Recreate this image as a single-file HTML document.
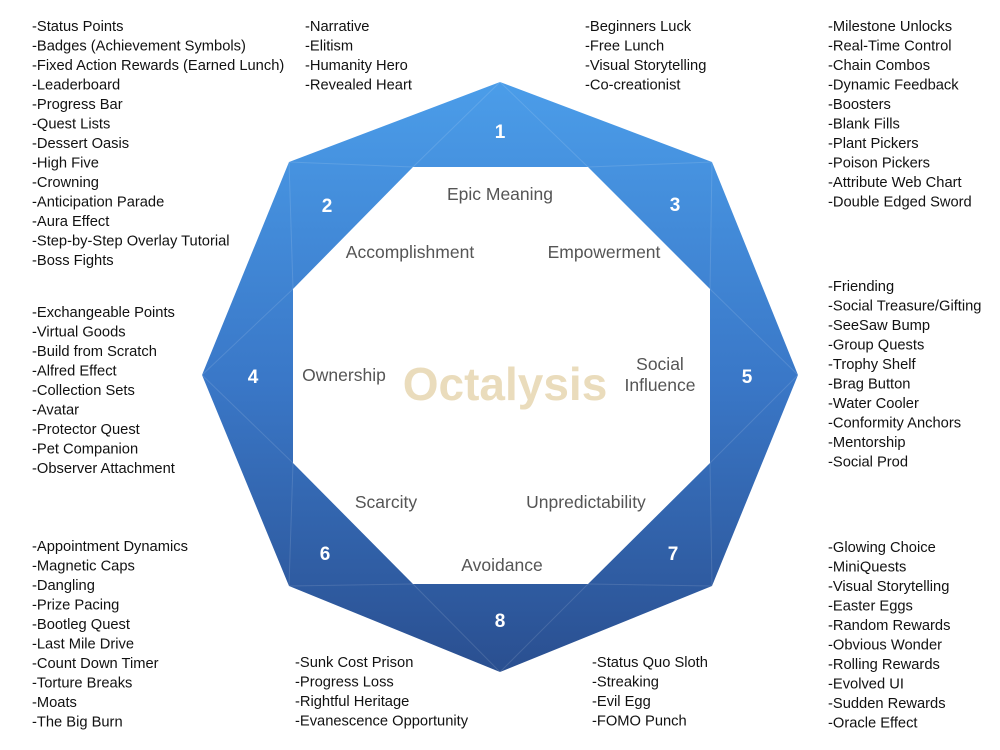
<!DOCTYPE html>
<html><head><meta charset="utf-8"><style>
html,body{margin:0;padding:0;background:#fff;}
svg{display:block;}
.l{font-family:"Liberation Sans",sans-serif;font-size:14.7px;fill:#111;}
.c{font-family:"Liberation Sans",sans-serif;font-size:17.5px;fill:#555;text-anchor:middle;}
.n{font-family:"Liberation Sans",sans-serif;font-size:19px;font-weight:bold;fill:#fff;text-anchor:middle;}
</style></head><body>
<svg width="1000" height="750" viewBox="0 0 1000 750">
<defs><linearGradient id="g" x1="0" y1="0" x2="0" y2="1">
<stop offset="0" stop-color="#4b9de9"/><stop offset="0.5" stop-color="#3a78c8"/><stop offset="1" stop-color="#2a4f90"/></linearGradient></defs>
<polygon points="500,82 712,162 798,375 712,586 500,672 289,586 202,375 289,162" fill="url(#g)"/>
<g stroke="#ffffff" stroke-opacity="0.12" stroke-width="1" fill="none">
<line x1="289" y1="162" x2="413" y2="167"/><line x1="712" y1="162" x2="588" y2="167"/>
<line x1="289" y1="162" x2="293" y2="289"/><line x1="712" y1="162" x2="710" y2="289"/>
<line x1="202" y1="375" x2="293" y2="289"/><line x1="202" y1="375" x2="293" y2="463"/>
<line x1="798" y1="375" x2="710" y2="289"/><line x1="798" y1="375" x2="710" y2="463"/>
<line x1="289" y1="586" x2="293" y2="463"/><line x1="289" y1="586" x2="413" y2="584"/>
<line x1="712" y1="586" x2="710" y2="463"/><line x1="712" y1="586" x2="588" y2="584"/>
<line x1="500" y1="672" x2="413" y2="584"/><line x1="500" y1="672" x2="588" y2="584"/>
<line x1="500" y1="82" x2="413" y2="167"/><line x1="500" y1="82" x2="588" y2="167"/>
</g>
<polygon points="413,167 588,167 710,289 710,463 588,584 413,584 293,463 293,289" fill="#fff"/>
<text x="505" y="400" text-anchor="middle" font-family="Liberation Sans,sans-serif" font-weight="bold" font-size="46" fill="#eadcbc">Octalysis</text>
<text class="c" x="500" y="200">Epic Meaning</text>
<text class="c" x="410" y="258">Accomplishment</text>
<text class="c" x="604" y="258">Empowerment</text>
<text class="c" x="344" y="381">Ownership</text>
<text class="c" x="660" y="370">Social</text>
<text class="c" x="660" y="391">Influence</text>
<text class="c" x="386" y="508">Scarcity</text>
<text class="c" x="586" y="508">Unpredictability</text>
<text class="c" x="502" y="571">Avoidance</text>
<text class="n" x="500" y="138">1</text>
<text class="n" x="327" y="212">2</text>
<text class="n" x="675" y="211">3</text>
<text class="n" x="253" y="383">4</text>
<text class="n" x="747" y="383">5</text>
<text class="n" x="325" y="560">6</text>
<text class="n" x="673" y="560">7</text>
<text class="n" x="500" y="627">8</text>
<g class="l">
<text x="32" y="31">-Status Points</text><text x="32" y="50.5">-Badges (Achievement Symbols)</text><text x="32" y="70">-Fixed Action Rewards (Earned Lunch)</text><text x="32" y="89.5">-Leaderboard</text><text x="32" y="109">-Progress Bar</text><text x="32" y="128.5">-Quest Lists</text><text x="32" y="148">-Dessert Oasis</text><text x="32" y="167.5">-High Five</text><text x="32" y="187">-Crowning</text><text x="32" y="206.5">-Anticipation Parade</text><text x="32" y="226">-Aura Effect</text><text x="32" y="245.5">-Step-by-Step Overlay Tutorial</text><text x="32" y="265">-Boss Fights</text>
<text x="305" y="31">-Narrative</text><text x="305" y="50.5">-Elitism</text><text x="305" y="70">-Humanity Hero</text><text x="305" y="89.5">-Revealed Heart</text>
<text x="585" y="31">-Beginners Luck</text><text x="585" y="50.5">-Free Lunch</text><text x="585" y="70">-Visual Storytelling</text><text x="585" y="89.5">-Co-creationist</text>
<text x="828" y="31">-Milestone Unlocks</text><text x="828" y="50.5">-Real-Time Control</text><text x="828" y="70">-Chain Combos</text><text x="828" y="89.5">-Dynamic Feedback</text><text x="828" y="109">-Boosters</text><text x="828" y="128.5">-Blank Fills</text><text x="828" y="148">-Plant Pickers</text><text x="828" y="167.5">-Poison Pickers</text><text x="828" y="187">-Attribute Web Chart</text><text x="828" y="206.5">-Double Edged Sword</text>
<text x="828" y="291">-Friending</text><text x="828" y="310.5">-Social Treasure/Gifting</text><text x="828" y="330">-SeeSaw Bump</text><text x="828" y="349.5">-Group Quests</text><text x="828" y="369">-Trophy Shelf</text><text x="828" y="388.5">-Brag Button</text><text x="828" y="408">-Water Cooler</text><text x="828" y="427.5">-Conformity Anchors</text><text x="828" y="447">-Mentorship</text><text x="828" y="466.5">-Social Prod</text>
<text x="32" y="317">-Exchangeable Points</text><text x="32" y="336.5">-Virtual Goods</text><text x="32" y="356">-Build from Scratch</text><text x="32" y="375.5">-Alfred Effect</text><text x="32" y="395">-Collection Sets</text><text x="32" y="414.5">-Avatar</text><text x="32" y="434">-Protector Quest</text><text x="32" y="453.5">-Pet Companion</text><text x="32" y="473">-Observer Attachment</text>
<text x="32" y="551">-Appointment Dynamics</text><text x="32" y="570.5">-Magnetic Caps</text><text x="32" y="590">-Dangling</text><text x="32" y="609.5">-Prize Pacing</text><text x="32" y="629">-Bootleg Quest</text><text x="32" y="648.5">-Last Mile Drive</text><text x="32" y="668">-Count Down Timer</text><text x="32" y="687.5">-Torture Breaks</text><text x="32" y="707">-Moats</text><text x="32" y="726.5">-The Big Burn</text>
<text x="295" y="667">-Sunk Cost Prison</text><text x="295" y="686.5">-Progress Loss</text><text x="295" y="706">-Rightful Heritage</text><text x="295" y="725.5">-Evanescence Opportunity</text>
<text x="592" y="667">-Status Quo Sloth</text><text x="592" y="686.5">-Streaking</text><text x="592" y="706">-Evil Egg</text><text x="592" y="725.5">-FOMO Punch</text>
<text x="828" y="552">-Glowing Choice</text><text x="828" y="571.5">-MiniQuests</text><text x="828" y="591">-Visual Storytelling</text><text x="828" y="610.5">-Easter Eggs</text><text x="828" y="630">-Random Rewards</text><text x="828" y="649.5">-Obvious Wonder</text><text x="828" y="669">-Rolling Rewards</text><text x="828" y="688.5">-Evolved UI</text><text x="828" y="708">-Sudden Rewards</text><text x="828" y="727.5">-Oracle Effect</text>
</g>
</svg>
</body></html>
